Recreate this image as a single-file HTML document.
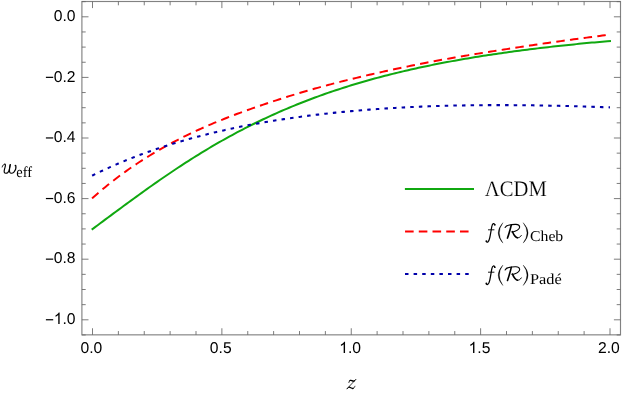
<!DOCTYPE html>
<html><head><meta charset="utf-8"><title>w_eff</title>
<style>
html,body{margin:0;padding:0;background:#fff;}
body{width:623px;height:398px;overflow:hidden;}
svg{display:block;will-change:transform;text-rendering:geometricPrecision;}
.tl text{font-family:"Liberation Sans",sans-serif;font-size:15.7px;fill:#000;}
.ser{font-family:"Liberation Serif",serif;fill:#000;}
.thin{stroke:#fff;stroke-width:0.18px;}
</style></head><body>
<svg width="623" height="398" viewBox="0 0 623 398">
<rect x="0" y="0" width="623" height="398" fill="#ffffff"/>
<!-- curves -->
<g fill="none" stroke-linejoin="round">
<path d="M92.50,229.00 L95.09,227.09 L97.67,225.18 L100.26,223.26 L102.85,221.34 L105.44,219.42 L108.03,217.50 L110.61,215.59 L113.20,213.67 L115.79,211.75 L118.38,209.84 L120.96,207.93 L123.55,206.03 L126.14,204.12 L128.72,202.23 L131.31,200.34 L133.90,198.45 L136.49,196.57 L139.07,194.70 L141.66,192.84 L144.25,190.98 L146.84,189.13 L149.43,187.30 L152.01,185.47 L154.60,183.65 L157.19,181.84 L159.78,180.04 L162.36,178.25 L164.95,176.48 L167.54,174.71 L170.12,172.96 L172.71,171.22 L175.30,169.49 L177.89,167.78 L180.48,166.07 L183.06,164.38 L185.65,162.71 L188.24,161.05 L190.82,159.40 L193.41,157.77 L196.00,156.15 L198.59,154.54 L201.18,152.95 L203.76,151.37 L206.35,149.81 L208.94,148.26 L211.53,146.73 L214.11,145.22 L216.70,143.71 L219.29,142.23 L221.88,140.75 L224.46,139.30 L227.05,137.86 L229.64,136.43 L232.23,135.02 L234.81,133.62 L237.40,132.24 L239.99,130.87 L242.57,129.52 L245.16,128.19 L247.75,126.86 L250.34,125.56 L252.93,124.27 L255.51,122.99 L258.10,121.73 L260.69,120.48 L263.27,119.25 L265.86,118.03 L268.45,116.83 L271.04,115.64 L273.62,114.47 L276.21,113.31 L278.80,112.16 L281.39,111.03 L283.98,109.91 L286.56,108.81 L289.15,107.71 L291.74,106.64 L294.33,105.57 L296.91,104.52 L299.50,103.49 L302.09,102.46 L304.68,101.45 L307.26,100.45 L309.85,99.47 L312.44,98.49 L315.02,97.53 L317.61,96.58 L320.20,95.65 L322.79,94.72 L325.38,93.81 L327.96,92.91 L330.55,92.02 L333.14,91.15 L335.73,90.28 L338.31,89.43 L340.90,88.58 L343.49,87.75 L346.07,86.93 L348.66,86.12 L351.25,85.32 L353.84,84.53 L356.43,83.75 L359.01,82.98 L361.60,82.22 L364.19,81.48 L366.78,80.74 L369.36,80.01 L371.95,79.29 L374.54,78.58 L377.12,77.88 L379.71,77.19 L382.30,76.50 L384.89,75.83 L387.48,75.17 L390.06,74.51 L392.65,73.87 L395.24,73.23 L397.82,72.60 L400.41,71.98 L403.00,71.36 L405.59,70.76 L408.18,70.16 L410.76,69.57 L413.35,68.99 L415.94,68.42 L418.52,67.85 L421.11,67.29 L423.70,66.74 L426.29,66.19 L428.88,65.66 L431.46,65.13 L434.05,64.60 L436.64,64.09 L439.23,63.58 L441.81,63.08 L444.40,62.58 L446.99,62.09 L449.58,61.61 L452.16,61.13 L454.75,60.66 L457.34,60.19 L459.92,59.73 L462.51,59.28 L465.10,58.83 L467.69,58.39 L470.27,57.96 L472.86,57.53 L475.45,57.10 L478.04,56.68 L480.62,56.27 L483.21,55.86 L485.80,55.46 L488.39,55.06 L490.98,54.67 L493.56,54.28 L496.15,53.90 L498.74,53.52 L501.33,53.14 L503.91,52.78 L506.50,52.41 L509.09,52.05 L511.68,51.70 L514.26,51.35 L516.85,51.00 L519.44,50.66 L522.03,50.32 L524.61,49.99 L527.20,49.66 L529.79,49.33 L532.38,49.01 L534.96,48.70 L537.55,48.38 L540.14,48.07 L542.73,47.77 L545.31,47.47 L547.90,47.17 L550.49,46.87 L553.08,46.58 L555.66,46.30 L558.25,46.01 L560.84,45.73 L563.42,45.46 L566.01,45.18 L568.60,44.91 L571.19,44.64 L573.78,44.38 L576.36,44.12 L578.95,43.86 L581.54,43.61 L584.12,43.36 L586.71,43.11 L589.30,42.86 L591.89,42.62 L594.47,42.38 L597.06,42.14 L599.65,41.91 L602.24,41.68 L604.83,41.45 L607.41,41.23 L610.00,41.00" stroke="#10a810" stroke-width="2.0" stroke-linecap="square"/>
<path d="M92.05,198.38 L92.50,197.98 L95.09,195.69 L97.67,193.45 L100.26,191.24 L102.85,189.07 L105.44,186.94 L108.03,184.84 L110.61,182.78 L113.20,180.75 L115.79,178.76 L118.38,176.81 L120.96,174.89 L123.55,173.00 L126.14,171.14 L128.72,169.31 L131.31,167.51 L133.90,165.75 L136.49,164.01 L139.07,162.30 L141.66,160.62 L144.25,158.97 L146.84,157.35 L149.43,155.75 L152.01,154.18 L154.60,152.63 L157.19,151.11 L159.78,149.61 L162.36,148.14 L164.95,146.69 L167.54,145.26 L170.12,143.86 L172.71,142.47 L175.30,141.11 L177.89,139.77 L180.48,138.45 L183.06,137.15 L185.65,135.87 L188.24,134.61 L190.82,133.37 L193.41,132.15 L196.00,130.94 L198.59,129.75 L201.18,128.58 L203.76,127.43 L206.35,126.29 L208.94,125.17 L211.53,124.06 L214.11,122.97 L216.70,121.89 L219.29,120.83 L221.88,119.78 L224.46,118.75 L227.05,117.73 L229.64,116.72 L232.23,115.73 L234.81,114.74 L237.40,113.78 L239.99,112.82 L242.57,111.87 L245.16,110.94 L247.75,110.02 L250.34,109.10 L252.93,108.20 L255.51,107.29 L258.10,106.40 L260.69,105.51 L263.27,104.63 L265.86,103.75 L268.45,102.88 L271.04,102.02 L273.62,101.16 L276.21,100.31 L278.80,99.47 L281.39,98.64 L283.98,97.81 L286.56,96.99 L289.15,96.18 L291.74,95.38 L294.33,94.58 L296.91,93.79 L299.50,93.02 L302.09,92.25 L304.68,91.49 L307.26,90.74 L309.85,89.99 L312.44,89.26 L315.02,88.54 L317.61,87.83 L320.20,87.12 L322.79,86.42 L325.38,85.73 L327.96,85.04 L330.55,84.36 L333.14,83.68 L335.73,83.01 L338.31,82.34 L340.90,81.68 L343.49,81.03 L346.07,80.38 L348.66,79.74 L351.25,79.10 L353.84,78.47 L356.43,77.84 L359.01,77.22 L361.60,76.60 L364.19,75.99 L366.78,75.39 L369.36,74.79 L371.95,74.20 L374.54,73.61 L377.12,73.02 L379.71,72.44 L382.30,71.86 L384.89,71.29 L387.48,70.73 L390.06,70.16 L392.65,69.61 L395.24,69.05 L397.82,68.50 L400.41,67.96 L403.00,67.42 L405.59,66.88 L408.18,66.35 L410.76,65.82 L413.35,65.29 L415.94,64.77 L418.52,64.25 L421.11,63.74 L423.70,63.23 L426.29,62.72 L428.88,62.22 L431.46,61.73 L434.05,61.25 L436.64,60.77 L439.23,60.30 L441.81,59.83 L444.40,59.37 L446.99,58.91 L449.58,58.46 L452.16,58.00 L454.75,57.56 L457.34,57.11 L459.92,56.66 L462.51,56.22 L465.10,55.78 L467.69,55.34 L470.27,54.90 L472.86,54.47 L475.45,54.04 L478.04,53.62 L480.62,53.19 L483.21,52.78 L485.80,52.36 L488.39,51.95 L490.98,51.54 L493.56,51.13 L496.15,50.72 L498.74,50.32 L501.33,49.92 L503.91,49.52 L506.50,49.12 L509.09,48.72 L511.68,48.32 L514.26,47.92 L516.85,47.52 L519.44,47.13 L522.03,46.73 L524.61,46.34 L527.20,45.95 L529.79,45.56 L532.38,45.18 L534.96,44.79 L537.55,44.41 L540.14,44.04 L542.73,43.66 L545.31,43.29 L547.90,42.92 L550.49,42.55 L553.08,42.18 L555.66,41.82 L558.25,41.46 L560.84,41.10 L563.42,40.74 L566.01,40.39 L568.60,40.03 L571.19,39.68 L573.78,39.33 L576.36,38.98 L578.95,38.64 L581.54,38.29 L584.12,37.95 L586.71,37.61 L589.30,37.26 L591.89,36.92 L594.47,36.58 L597.06,36.24 L599.65,35.91 L602.24,35.57 L604.83,35.23 L607.41,34.90 L610.00,34.56" stroke="#ff0000" stroke-width="1.95" stroke-dasharray="8.5 5.3"/>
<path d="M92.10,175.67 L92.50,175.47 L95.09,174.20 L97.67,172.94 L100.26,171.70 L102.85,170.48 L105.44,169.28 L108.03,168.10 L110.61,166.93 L113.20,165.79 L115.79,164.66 L118.38,163.54 L120.96,162.45 L123.55,161.37 L126.14,160.31 L128.72,159.26 L131.31,158.23 L133.90,157.22 L136.49,156.22 L139.07,155.23 L141.66,154.27 L144.25,153.31 L146.84,152.37 L149.43,151.45 L152.01,150.54 L154.60,149.65 L157.19,148.76 L159.78,147.90 L162.36,147.04 L164.95,146.20 L167.54,145.37 L170.12,144.56 L172.71,143.75 L175.30,142.96 L177.89,142.19 L180.48,141.42 L183.06,140.67 L185.65,139.93 L188.24,139.20 L190.82,138.48 L193.41,137.77 L196.00,137.08 L198.59,136.39 L201.18,135.72 L203.76,135.06 L206.35,134.41 L208.94,133.76 L211.53,133.13 L214.11,132.51 L216.70,131.90 L219.29,131.30 L221.88,130.71 L224.46,130.13 L227.05,129.55 L229.64,128.99 L232.23,128.44 L234.81,127.89 L237.40,127.36 L239.99,126.83 L242.57,126.31 L245.16,125.80 L247.75,125.30 L250.34,124.81 L252.93,124.32 L255.51,123.85 L258.10,123.38 L260.69,122.92 L263.27,122.47 L265.86,122.02 L268.45,121.59 L271.04,121.16 L273.62,120.73 L276.21,120.32 L278.80,119.91 L281.39,119.51 L283.98,119.12 L286.56,118.73 L289.15,118.35 L291.74,117.98 L294.33,117.62 L296.91,117.26 L299.50,116.91 L302.09,116.56 L304.68,116.22 L307.26,115.89 L309.85,115.56 L312.44,115.24 L315.02,114.93 L317.61,114.62 L320.20,114.32 L322.79,114.02 L325.38,113.73 L327.96,113.45 L330.55,113.17 L333.14,112.89 L335.73,112.63 L338.31,112.37 L340.90,112.11 L343.49,111.86 L346.07,111.61 L348.66,111.37 L351.25,111.14 L353.84,110.91 L356.43,110.68 L359.01,110.46 L361.60,110.25 L364.19,110.04 L366.78,109.84 L369.36,109.64 L371.95,109.44 L374.54,109.25 L377.12,109.07 L379.71,108.89 L382.30,108.71 L384.89,108.54 L387.48,108.38 L390.06,108.22 L392.65,108.06 L395.24,107.91 L397.82,107.76 L400.41,107.62 L403.00,107.48 L405.59,107.34 L408.18,107.21 L410.76,107.09 L413.35,106.96 L415.94,106.85 L418.52,106.73 L421.11,106.62 L423.70,106.52 L426.29,106.42 L428.88,106.32 L431.46,106.23 L434.05,106.14 L436.64,106.05 L439.23,105.97 L441.81,105.89 L444.40,105.82 L446.99,105.75 L449.58,105.68 L452.16,105.62 L454.75,105.56 L457.34,105.51 L459.92,105.46 L462.51,105.41 L465.10,105.36 L467.69,105.32 L470.27,105.29 L472.86,105.25 L475.45,105.22 L478.04,105.19 L480.62,105.17 L483.21,105.15 L485.80,105.13 L488.39,105.12 L490.98,105.11 L493.56,105.10 L496.15,105.10 L498.74,105.10 L501.33,105.10 L503.91,105.10 L506.50,105.11 L509.09,105.12 L511.68,105.14 L514.26,105.15 L516.85,105.17 L519.44,105.19 L522.03,105.22 L524.61,105.25 L527.20,105.28 L529.79,105.31 L532.38,105.35 L534.96,105.39 L537.55,105.43 L540.14,105.47 L542.73,105.52 L545.31,105.56 L547.90,105.62 L550.49,105.67 L553.08,105.72 L555.66,105.78 L558.25,105.84 L560.84,105.90 L563.42,105.96 L566.01,106.03 L568.60,106.10 L571.19,106.17 L573.78,106.24 L576.36,106.31 L578.95,106.39 L581.54,106.46 L584.12,106.54 L586.71,106.62 L589.30,106.70 L591.89,106.78 L594.47,106.86 L597.06,106.95 L599.65,107.03 L602.24,107.12 L604.83,107.21 L607.41,107.30 L610.00,107.39" stroke="#0000aa" stroke-width="2.05" stroke-dasharray="3.5 5.125"/>
</g>
<!-- frame -->
<rect x="81.9" y="1.5" width="538.6" height="333.35" fill="none" stroke="#828282" stroke-width="1.15"/>
<path d="M92.50,334.85 v-6.6 M92.50,1.5 v6.6 M118.38,334.85 v-3.8 M118.38,1.5 v3.8 M144.25,334.85 v-3.8 M144.25,1.5 v3.8 M170.12,334.85 v-3.8 M170.12,1.5 v3.8 M196.00,334.85 v-3.8 M196.00,1.5 v3.8 M221.88,334.85 v-6.6 M221.88,1.5 v6.6 M247.75,334.85 v-3.8 M247.75,1.5 v3.8 M273.62,334.85 v-3.8 M273.62,1.5 v3.8 M299.50,334.85 v-3.8 M299.50,1.5 v3.8 M325.38,334.85 v-3.8 M325.38,1.5 v3.8 M351.25,334.85 v-6.6 M351.25,1.5 v6.6 M377.12,334.85 v-3.8 M377.12,1.5 v3.8 M403.00,334.85 v-3.8 M403.00,1.5 v3.8 M428.88,334.85 v-3.8 M428.88,1.5 v3.8 M454.75,334.85 v-3.8 M454.75,1.5 v3.8 M480.62,334.85 v-6.6 M480.62,1.5 v6.6 M506.50,334.85 v-3.8 M506.50,1.5 v3.8 M532.38,334.85 v-3.8 M532.38,1.5 v3.8 M558.25,334.85 v-3.8 M558.25,1.5 v3.8 M584.12,334.85 v-3.8 M584.12,1.5 v3.8 M610.00,334.85 v-6.6 M610.00,1.5 v6.6 M81.9,1.65 h3.8 M620.5,1.65 h-3.8 M81.9,16.80 h6.6 M620.5,16.80 h-6.6 M81.9,31.95 h3.8 M620.5,31.95 h-3.8 M81.9,47.10 h3.8 M620.5,47.10 h-3.8 M81.9,62.25 h3.8 M620.5,62.25 h-3.8 M81.9,77.40 h6.6 M620.5,77.40 h-6.6 M81.9,92.55 h3.8 M620.5,92.55 h-3.8 M81.9,107.70 h3.8 M620.5,107.70 h-3.8 M81.9,122.85 h3.8 M620.5,122.85 h-3.8 M81.9,138.00 h6.6 M620.5,138.00 h-6.6 M81.9,153.15 h3.8 M620.5,153.15 h-3.8 M81.9,168.30 h3.8 M620.5,168.30 h-3.8 M81.9,183.45 h3.8 M620.5,183.45 h-3.8 M81.9,198.60 h6.6 M620.5,198.60 h-6.6 M81.9,213.75 h3.8 M620.5,213.75 h-3.8 M81.9,228.90 h3.8 M620.5,228.90 h-3.8 M81.9,244.05 h3.8 M620.5,244.05 h-3.8 M81.9,259.20 h6.6 M620.5,259.20 h-6.6 M81.9,274.35 h3.8 M620.5,274.35 h-3.8 M81.9,289.50 h3.8 M620.5,289.50 h-3.8 M81.9,304.65 h3.8 M620.5,304.65 h-3.8 M81.9,319.80 h6.6 M620.5,319.80 h-6.6 M81.9,334.95 h3.8 M620.5,334.95 h-3.8" fill="none" stroke="#666666" stroke-width="0.85"/>
<g class="tl"><text x="80.44" y="353.00">0.0</text><text x="209.81" y="353.00">0.5</text><path d="M345.04,353.00 L343.66,353.00 L343.66,344.21 Q343.16,344.68 342.36,345.15 Q341.54,345.64 340.90,345.87 L340.90,344.54 Q342.06,343.99 342.94,343.22 Q343.80,342.43 344.17,341.70 L345.04,341.70 Z" fill="#000"/><text x="347.92" y="353.00">.0</text><path d="M474.42,353.00 L473.04,353.00 L473.04,344.21 Q472.54,344.68 471.73,345.15 Q470.92,345.64 470.27,345.87 L470.27,344.54 Q471.44,343.99 472.32,343.22 Q473.18,342.43 473.54,341.70 L474.42,341.70 Z" fill="#000"/><text x="477.29" y="353.00">.5</text><text x="597.94" y="353.00">2.0</text><text x="53.78" y="20.90">0.0</text><text x="53.78" y="81.50">0.2</text><rect x="45.9" y="76.75" width="7.3" height="1.2" fill="#000"/><text x="53.78" y="142.10">0.4</text><rect x="45.9" y="137.35" width="7.3" height="1.2" fill="#000"/><text x="53.78" y="202.70">0.6</text><rect x="45.9" y="197.95" width="7.3" height="1.2" fill="#000"/><text x="53.78" y="263.30">0.8</text><rect x="45.9" y="258.55" width="7.3" height="1.2" fill="#000"/><path d="M59.63,323.90 L58.25,323.90 L58.25,315.11 Q57.75,315.58 56.95,316.05 Q56.13,316.54 55.49,316.77 L55.49,315.44 Q56.65,314.89 57.53,314.12 Q58.39,313.33 58.75,312.60 L59.63,312.60 Z" fill="#000"/><text x="62.51" y="323.90">.0</text><rect x="45.9" y="319.15" width="7.3" height="1.2" fill="#000"/></g>
<!-- axis labels -->
<g fill="none" stroke="#000" stroke-linecap="round" stroke-linejoin="round">
<path d="M2.17,167.05 C2.53,165.36 3.62,164.03 4.83,164.15" stroke-width="0.85"/>
<path d="M4.83,164.15 C5.67,164.27 5.43,165.72 5.07,167.17 C4.58,169.22 3.62,170.91 4.34,172.48 C4.83,173.56 6.63,173.56 7.84,172.48 C9.05,171.27 9.77,168.13 10.25,164.51" stroke-width="1.15"/>
<path d="M10.25,164.51 C9.77,167.05 8.93,170.18 9.77,172.23 C10.37,173.56 12.36,173.68 13.75,172.35 C15.20,170.91 16.25,168.2 15.86,165.96" stroke-width="1.15"/>
</g><circle cx="15.45" cy="165.5" r="0.85" fill="#000"/>
<text class="ser" transform="translate(16.3,176.75) scale(0.95,1)" font-size="15.2">eff</text>
<g fill="none" stroke="#000" stroke-linecap="round" stroke-linejoin="round">
<path d="M348.87,382.39 C349.04,381.50 349.37,380.84 349.92,380.51" stroke-width="0.9"/>
<path d="M349.92,380.51 C350.48,380.18 351.19,380.29 351.91,380.67 C352.57,381.06 353.24,381.28 354.12,380.95" stroke-width="1.35"/>
<path d="M354.12,380.95 C354.67,380.73 355.23,380.29 355.67,379.62" stroke-width="0.8"/>
<path d="M355.67,379.62 L347.05,388.69" stroke-width="0.75"/>
<path d="M347.05,388.69 C347.71,387.91 348.43,387.30 349.26,387.19" stroke-width="0.8"/>
<path d="M349.26,387.19 C350.25,387.03 351.75,388.91 353.13,388.41" stroke-width="1.35"/>
<path d="M353.13,388.41 C354.12,387.91 354.67,387.03 354.90,386.25" stroke-width="0.8"/>
</g>
<!-- legend -->
<g fill="none">
<path d="M404.9,188.95 H474" stroke="#10a810" stroke-width="2.0"/>
<path d="M405.05,231.45 H468.8" stroke="#ff0000" stroke-width="1.95" stroke-dasharray="8.6 5.13"/>
<path d="M405.0,274.0 H468.9" stroke="#0000aa" stroke-width="2.05" stroke-dasharray="3.5 5.1"/>
</g>
<text class="ser thin" transform="translate(484.8,196.1) scale(0.962,1.03)" font-size="21.5">ΛCDM</text>
<g id="fr"><g fill="none" stroke="#000" stroke-linecap="round" stroke-linejoin="round">
<path d="M494.7,224.5 C494.3,223.8 493.8,223.5 493.3,223.6 C492.5,223.8 492.1,225 491.8,226.5 C491.3,229 490.6,234 489.8,237.7 C489.4,239.5 488.9,241.2 487.9,241.9 C487.4,242.3 486.8,242.3 486.4,241.6" stroke-width="1.25"/>
<path d="M488.4,229.8 H494" stroke-width="0.9"/>
</g>
<circle cx="494.85" cy="224.85" r="0.85" fill="#000"/><circle cx="486.35" cy="241.1" r="0.9" fill="#000"/>
<path d="M502.9,222.7 Q493.5,232.9 502.9,243.1 Q495.7,232.9 502.9,222.7Z" fill="#000" stroke="#000" stroke-width="0.3" stroke-linejoin="round"/>
<path d="M523.2,222.7 Q533.0,232.9 523.2,243.1 Q530.8,232.9 523.2,222.7Z" fill="#000" stroke="#000" stroke-width="0.3" stroke-linejoin="round"/>
<g fill="none" stroke="#000" stroke-linecap="round" stroke-linejoin="round">
<path d="M505.1,227.5 C505.9,226.1 506.9,225.4 508.3,225.2 C511,224.6 513.5,224.3 516,224.4 C518,224.5 519.3,225.2 519.6,226.6 C519.9,228.3 518.5,230 515,231.3 C514,231.7 513,231.9 511.9,231.9" stroke-width="1.1"/>
<path d="M511.3,225 C510.3,229 509,234 507.5,238.1" stroke-width="1.6"/>
<path d="M512.5,231.7 C513.2,233.5 514,235 515,236.1 C515.8,237 516.5,237.6 517.3,237.8" stroke-width="1.6"/>
<path d="M517.3,237.8 C518.7,238 520.1,237.4 521.3,235.5" stroke-width="1.0"/>
</g></g>
<text class="ser" transform="translate(530.0,240.8) scale(1.05,1)" font-size="15">Cheb</text>
<g transform="translate(0,42.4)"><g fill="none" stroke="#000" stroke-linecap="round" stroke-linejoin="round">
<path d="M494.7,224.5 C494.3,223.8 493.8,223.5 493.3,223.6 C492.5,223.8 492.1,225 491.8,226.5 C491.3,229 490.6,234 489.8,237.7 C489.4,239.5 488.9,241.2 487.9,241.9 C487.4,242.3 486.8,242.3 486.4,241.6" stroke-width="1.25"/>
<path d="M488.4,229.8 H494" stroke-width="0.9"/>
</g>
<circle cx="494.85" cy="224.85" r="0.85" fill="#000"/><circle cx="486.35" cy="241.1" r="0.9" fill="#000"/>
<path d="M502.9,222.7 Q493.5,232.9 502.9,243.1 Q495.7,232.9 502.9,222.7Z" fill="#000" stroke="#000" stroke-width="0.3" stroke-linejoin="round"/>
<path d="M523.2,222.7 Q533.0,232.9 523.2,243.1 Q530.8,232.9 523.2,222.7Z" fill="#000" stroke="#000" stroke-width="0.3" stroke-linejoin="round"/>
<g fill="none" stroke="#000" stroke-linecap="round" stroke-linejoin="round">
<path d="M505.1,227.5 C505.9,226.1 506.9,225.4 508.3,225.2 C511,224.6 513.5,224.3 516,224.4 C518,224.5 519.3,225.2 519.6,226.6 C519.9,228.3 518.5,230 515,231.3 C514,231.7 513,231.9 511.9,231.9" stroke-width="1.1"/>
<path d="M511.3,225 C510.3,229 509,234 507.5,238.1" stroke-width="1.6"/>
<path d="M512.5,231.7 C513.2,233.5 514,235 515,236.1 C515.8,237 516.5,237.6 517.3,237.8" stroke-width="1.6"/>
<path d="M517.3,237.8 C518.7,238 520.1,237.4 521.3,235.5" stroke-width="1.0"/>
</g></g>
<text class="ser" transform="translate(530.0,283.6) scale(1.09,1)" font-size="15">Padé</text>
</svg>
</body></html>
